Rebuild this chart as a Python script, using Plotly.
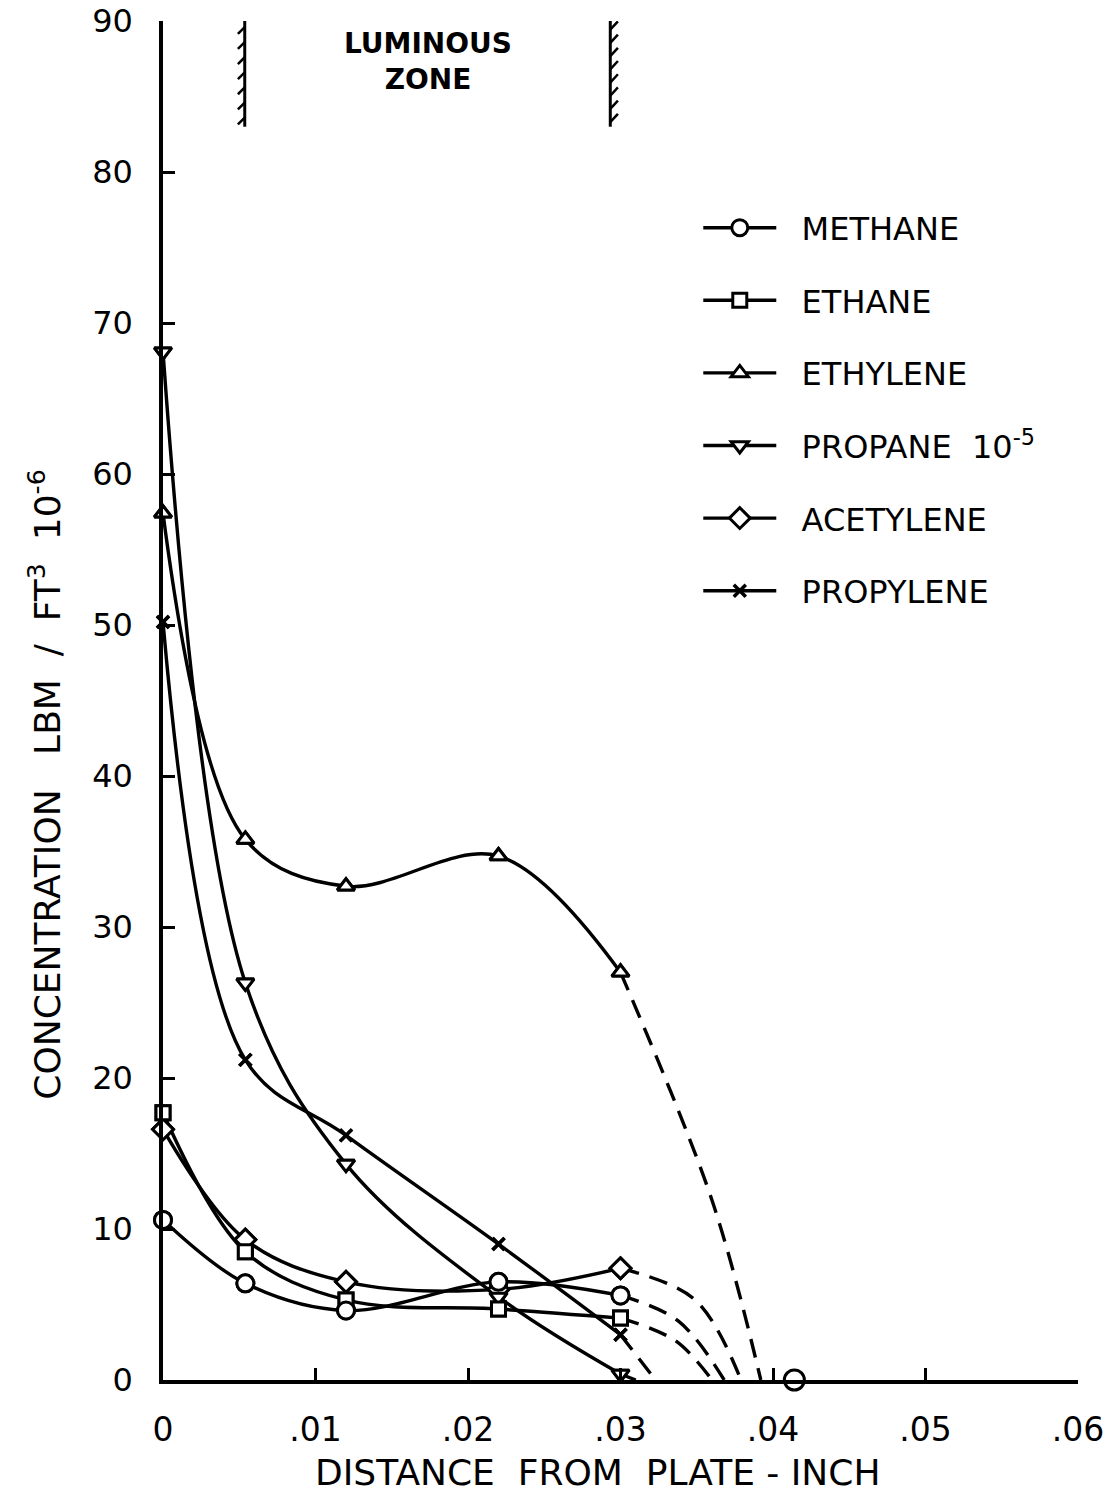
import plotly.graph_objects as go

# ---------------- data ----------------
x_pos = [0.0, 0.0054, 0.012, 0.022, 0.030]

methane = [10.6, 6.4, 4.6, 6.5, 5.6]
ethane = [17.7, 8.5, 5.3, 4.7, 4.1]
ethylene = [57.4, 35.8, 32.7, 34.7, 27.0]
propane = [68.1, 26.3, 14.3, 5.5, 0.4]
acetylene = [16.6, 9.3, 6.5, 6.0, 7.4]
propylene = [50.2, 21.2, 16.2, 9.0, 3.0]

# dashed extrapolation: (mid x, mid y) and zero crossing x
ext_mid_x = {"methane": 0.0338, "ethane": 0.0336, "ethylene": 0.0360,
             "propane": None, "acetylene": 0.0349, "propylene": None}
ext_mid_y = {"methane": 3.9, "ethane": 2.6, "ethylene": 11.9,
             "propane": None, "acetylene": 5.3, "propylene": None}
ext_end_x = {"methane": 0.0368, "ethane": 0.0360, "ethylene": 0.0392,
             "propane": 0.0310, "acetylene": 0.0379, "propylene": 0.0323}

# isolated methane point on the axis
methane_extra_x = [0.0414]
methane_extra_y = [0.0]

x_tickvals = [0, 0.01, 0.02, 0.03, 0.04, 0.05, 0.06]
x_ticktext = ["0", ".01", ".02", ".03", ".04", ".05", ".06"]
y_tickvals = [0, 10, 20, 30, 40, 50, 60, 70, 80, 90]

zone_edges = [0.00536, 0.02933]
zone_y = [83.0, 90.0]

names = ["methane", "ethane", "ethylene", "propane", "acetylene", "propylene"]
NB = "\u00a0\u00a0"
labels = [NB + "METHANE", NB + "ETHANE", NB + "ETHYLENE",
          NB + "PROPANE  10<sup>-5</sup>", NB + "ACETYLENE", NB + "PROPYLENE"]
values = {"methane": methane, "ethane": ethane, "ethylene": ethylene,
          "propane": propane, "acetylene": acetylene, "propylene": propylene}
symbols = {"methane": "circle", "ethane": "square", "ethylene": "triangle-up",
           "propane": "triangle-down", "acetylene": "diamond", "propylene": "x-thin"}
msizes = {"methane": 17, "ethane": 14, "ethylene": 15, "propane": 15,
          "acetylene": 16, "propylene": 12}

FONT = "DejaVu Sans"
LW = 3.4

def marker_for(n):
    if symbols[n] == "x-thin":
        return dict(symbol="x-thin", size=msizes[n], color="black",
                    line=dict(color="black", width=3.5))
    return dict(symbol=symbols[n], size=msizes[n], color="white",
                line=dict(color="black", width=3))

fig = go.Figure()

# solid curves with legend
for i, n in enumerate(names):
    fig.add_trace(go.Scatter(
        x=x_pos, y=values[n], mode="lines+markers", name=labels[i],
        line=dict(color="black", width=LW, shape="spline", smoothing=1.0),
        marker=marker_for(n), cliponaxis=False,
        legendgroup=n, showlegend=True))

# dashed extrapolations
for n in names:
    xs = [x_pos[-1]]
    ys = [values[n][-1]]
    if ext_mid_x[n] is not None:
        xs.append(ext_mid_x[n]); ys.append(ext_mid_y[n])
    xs.append(ext_end_x[n]); ys.append(0.0)
    fig.add_trace(go.Scatter(
        x=xs, y=ys, mode="lines",
        line=dict(color="black", width=LW, dash="19px,11px",
                  shape="spline", smoothing=1.0),
        cliponaxis=False, showlegend=False, hoverinfo="skip"))

# markers on top (acetylene first so others cover it)
for n in ["acetylene", "propylene", "propane", "ethylene", "ethane", "methane"]:
    fig.add_trace(go.Scatter(
        x=x_pos, y=values[n], mode="markers", marker=marker_for(n),
        cliponaxis=False, showlegend=False, hoverinfo="skip"))

fig.add_trace(go.Scatter(
    x=methane_extra_x, y=methane_extra_y, mode="markers",
    marker=dict(symbol="circle", size=20, color="white",
                line=dict(color="black", width=3)),
    cliponaxis=False, showlegend=False, hoverinfo="skip"))

# luminous zone boundaries with hatching
shapes = []
for k, xe in enumerate(zone_edges):
    shapes.append(dict(type="line", xref="x", yref="y", x0=xe, x1=xe,
                       y0=zone_y[0], y1=zone_y[1],
                       line=dict(color="black", width=3)))
    nh = 7 if k == 0 else 8
    step = (zone_y[1] - zone_y[0]) / nh
    for j in range(nh):
        if k == 0:
            yy = zone_y[0] + 0.6 + j * step
            shapes.append(dict(type="line", xref="x", yref="y",
                               x0=xe, y0=yy, x1=xe - 0.00045, y1=yy - 0.45,
                               line=dict(color="black", width=2.5)))
        else:
            yy = zone_y[0] + 0.3 + j * step
            shapes.append(dict(type="line", xref="x", yref="y",
                               x0=xe, y0=yy, x1=xe + 0.0005, y1=yy + 0.55,
                               line=dict(color="black", width=2.5)))

annotations = [
    dict(x=sum(zone_edges) / 2, y=87.3, xref="x", yref="y",
         text="<b>LUMINOUS</b><br><b>ZONE</b>", showarrow=False,
         font=dict(family=FONT, size=28, color="black")),
    dict(x=0.475, y=-0.068, xref="paper", yref="paper",
         text="DISTANCE  FROM  PLATE - INCH", showarrow=False,
         xanchor="center", yanchor="middle",
         font=dict(family=FONT, size=36, color="black")),
    dict(x=-0.129, y=0.438, xref="paper", yref="paper",
         text="CONCENTRATION   LBM  /  FT<sup>3</sup>  10<sup>-6</sup>",
         showarrow=False, textangle=-90, xanchor="center", yanchor="middle",
         font=dict(family=FONT, size=36, color="black")),
]

fig.update_layout(
    width=1114, height=1494,
    margin=dict(l=163, r=36, t=21, b=114, autoexpand=False),
    paper_bgcolor="white", plot_bgcolor="white",
    font=dict(family=FONT, color="black"),
    shapes=shapes, annotations=annotations,
    legend=dict(x=0.585, y=0.868, xanchor="left", yanchor="top",
                font=dict(family=FONT, size=32, color="black"),
                bgcolor="rgba(0,0,0,0)", borderwidth=0,
                tracegroupgap=28, itemwidth=73),
    showlegend=True,
)

fig.update_xaxes(range=[0, 0.06], showline=True, linecolor="black", linewidth=3.5,
                 ticks="inside", ticklen=12, tickwidth=3, tickcolor="black",
                 tickvals=x_tickvals, ticktext=x_ticktext,
                 tickfont=dict(family=FONT, size=33, color="black"),
                 ticklabelstandoff=18, automargin=False,
                 showgrid=False, zeroline=False, mirror=False)
fig.update_yaxes(range=[0, 90], showline=True, linecolor="black", linewidth=3.5,
                 ticks="inside", ticklen=12, tickwidth=3, tickcolor="black",
                 tickvals=y_tickvals,
                 tickfont=dict(family=FONT, size=32, color="black"),
                 ticklabelstandoff=20, automargin=False,
                 showgrid=False, zeroline=False, mirror=False)

fig.write_html("out.html",
               config={"displayModeBar": False},
               post_script="document.body.style.margin='0';"
                           "document.body.style.overflow='hidden';")
